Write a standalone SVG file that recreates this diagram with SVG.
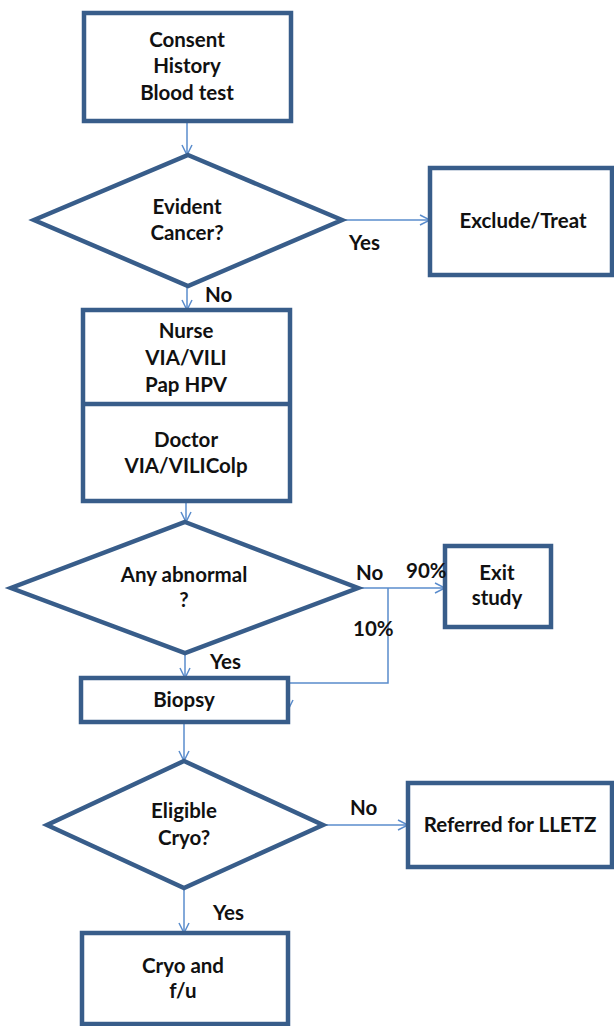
<svg xmlns="http://www.w3.org/2000/svg" width="614" height="1026" viewBox="0 0 614 1026">
<defs>
<style>
.box{fill:#fff;stroke:#385d8a;stroke-width:4.5;stroke-linejoin:miter}
.t{font-family:Lato,"Liberation Sans",sans-serif;font-weight:bold;font-size:20.5px;fill:#111;text-anchor:middle}
.l{font-family:Lato,"Liberation Sans",sans-serif;font-weight:bold;font-size:20.5px;fill:#111}
.c{fill:none;stroke:#5a8ccc;stroke-width:1.5}
</style>
<marker id="arr" viewBox="0 0 12 12" refX="11" refY="6" markerWidth="12" markerHeight="12" markerUnits="userSpaceOnUse" orient="auto">
<path d="M1,1 L11,6 L1,11" fill="none" stroke="#5a8ccc" stroke-width="1.5"/>
</marker>
</defs>
<rect width="614" height="1026" fill="#fff"/>
<g id="connectors">
<path class="c" d="M187,121 V155" marker-end="url(#arr)"/>
<path class="c" d="M342,220 H430" marker-end="url(#arr)"/>
<path class="c" d="M187,286 V310" marker-end="url(#arr)"/>
<path class="c" d="M186,501 V522" marker-end="url(#arr)"/>
<path class="c" d="M358,588 H445" marker-end="url(#arr)"/>
<path class="c" d="M388,588 V683 H288 V710" marker-end="url(#arr)"/>
<path class="c" d="M185,653 V678" marker-end="url(#arr)"/>
<path class="c" d="M184,722 V761" marker-end="url(#arr)"/>
<path class="c" d="M323,825 H408" marker-end="url(#arr)"/>
<path class="c" d="M184,888 V933" marker-end="url(#arr)"/>
</g>
<g id="consent">
<rect class="box" x="84" y="13" width="207" height="108"/>
<text class="t" x="187" y="47">Consent</text>
<text class="t" x="187" y="73">History</text>
<text class="t" x="187" y="100">Blood test</text>
</g>
<g id="evident">
<polygon class="box" points="188,155 342,220 188,286 34,220"/>
<text class="t" x="187" y="214">Evident</text>
<text class="t" x="187" y="240">Cancer?</text>
</g>
<g id="exclude">
<rect class="box" x="430" y="168" width="182" height="107"/>
<text class="t" x="523" y="228">Exclude/Treat</text>
</g>
<g id="nurse">
<rect class="box" x="83" y="310" width="207" height="191"/>
<line class="box" x1="83" y1="404" x2="290" y2="404"/>
<text class="t" x="186" y="338">Nurse</text>
<text class="t" x="186" y="365">VIA/VILI</text>
<text class="t" x="186" y="392">Pap HPV</text>
<text class="t" x="186" y="447">Doctor</text>
<text class="t" x="186" y="473">VIA/VILIColp</text>
</g>
<g id="abnormal">
<polygon class="box" points="185,522 358,588 185,653 11,588"/>
<text class="t" x="184" y="582">Any abnormal</text>
<text class="t" x="184" y="607">?</text>
</g>
<g id="exit">
<rect class="box" x="445" y="546" width="106" height="81"/>
<text class="t" x="497" y="580">Exit</text>
<text class="t" x="497" y="605">study</text>
</g>
<g id="biopsy">
<rect class="box" x="81" y="678" width="207" height="44"/>
<text class="t" x="184" y="707">Biopsy</text>
</g>
<g id="eligible">
<polygon class="box" points="184,761 323,825 184,888 47,825"/>
<text class="t" x="184" y="818">Eligible</text>
<text class="t" x="184" y="845">Cryo?</text>
</g>
<g id="lletz">
<rect class="box" x="408" y="783" width="204" height="84"/>
<text class="t" x="510" y="832">Referred for LLETZ</text>
</g>
<g id="cryo">
<rect class="box" x="82" y="933" width="206" height="91"/>
<text class="t" x="183" y="973">Cryo and</text>
<text class="t" x="183" y="998">f/u</text>
</g>
<g id="labels">
<text class="l" x="349" y="250">Yes</text>
<text class="l" x="205" y="302">No</text>
<text class="l" x="356" y="580">No</text>
<text class="l" x="406" y="578">90%</text>
<text class="l" x="353" y="636">10%</text>
<text class="l" x="210" y="669">Yes</text>
<text class="l" x="350" y="815">No</text>
<text class="l" x="213" y="920">Yes</text>
</g>
</svg>
